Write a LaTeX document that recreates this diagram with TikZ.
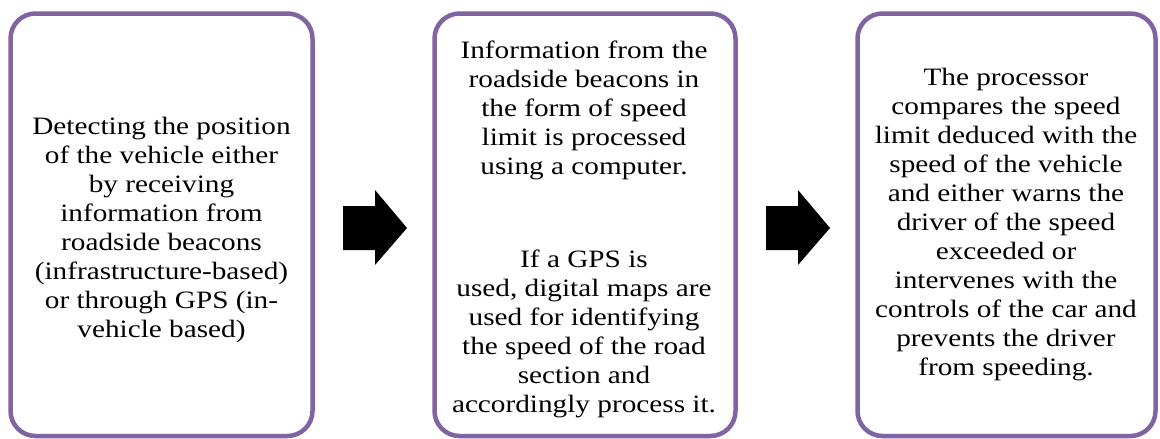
\documentclass[tikz,border=0pt]{standalone}
\usepackage{fontspec}
\setmainfont[FakeStretch=1.17]{Liberation Serif}
\definecolor{boxpurple}{HTML}{8064A2}
\tikzset{
  stagebox/.style={draw=boxpurple, line width=4.5pt, rounded corners=25pt,
    fill=white, inner sep=0pt},
  % the base anchor of a multi-line node sits on its last line
  stagetext/.style={align=center, inner sep=0pt, anchor=base,
    font=\fontsize{25}{29}\selectfont},
  blockarrow/.style={fill=black, draw=none}
}
\begin{document}
\begin{tikzpicture}[x=1pt, y=-1pt]
  \useasboundingbox (0,0) rectangle (1160,439);

  % three process stages
  \node[stagebox, minimum width=302pt, minimum height=422.5pt] (box1) at (161.5,224.75) {};
  \node[stagebox, minimum width=301pt, minimum height=422.5pt] (box2) at (585,224.75) {};
  \node[stagebox, minimum width=298pt, minimum height=422.5pt] (box3) at (1006.5,224.75) {};

  % stage texts
  \node[stagetext] (t1) at (161.5,337.5) {Detecting the position\\of the vehicle either\\by receiving\\information from\\roadside beacons\\(infrastructure-based)\\or through GPS (in-\\vehicle based)};
  \node[stagetext] (t2a) at (584,174.3) {Information from the\\roadside beacons in\\the form of speed\\limit is processed\\using a computer.};
  \node[stagetext] (t2b) at (584,412) {If a GPS is\\used, digital maps are\\used for identifying\\the speed of the road\\section and\\accordingly process it.};
  \node[stagetext] (t3) at (1006,375) {The processor\\compares the speed\\limit deduced with the\\speed of the vehicle\\and either warns the\\driver of the speed\\exceeded or\\intervenes with the\\controls of the car and\\prevents the driver\\from speeding.};

  % block arrows between the stages
  \fill[blockarrow] (343,206) -- (375,206) -- (375,190) -- (407,228)
    -- (375,265) -- (375,250) -- (343,250) -- cycle;
  \fill[blockarrow] (766,206) -- (798,206) -- (798,190) -- (830,228)
    -- (798,265) -- (798,250) -- (766,250) -- cycle;
\end{tikzpicture}
\end{document}
